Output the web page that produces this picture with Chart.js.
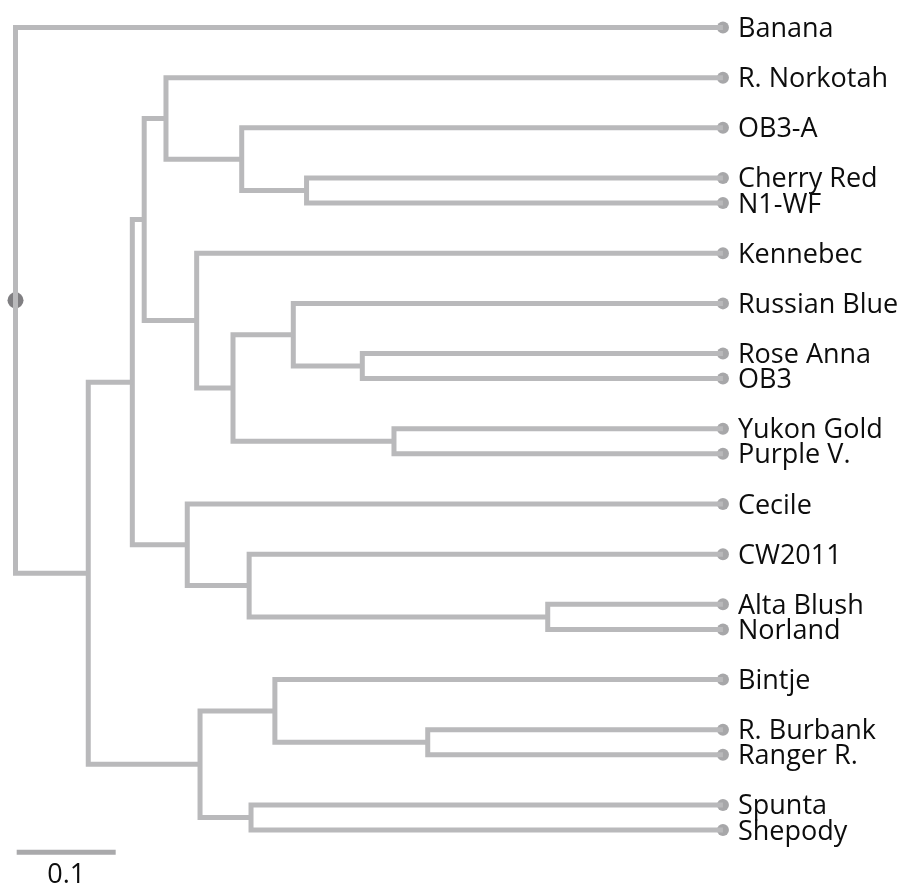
<!DOCTYPE html>
<html>
<head>
<meta charset="utf-8">
<script src="https://cdn.jsdelivr.net/npm/chart.js@4/dist/chart.umd.min.js"></script>
<style>
  html, body { margin: 0; padding: 0; background: #ffffff; }
  #wrap { width: 903px; height: 886px; position: relative; }
</style>
</head>
<body>
<div id="wrap"><canvas id="c"></canvas></div>
<script>
// ---- Data ----
const leafNames = ['Banana','R. Norkotah','OB3-A','Cherry Red','N1-WF','Kennebec','Russian Blue',
  'Rose Anna','OB3','Yukon Gold','Purple V.','Cecile','CW2011','Alta Blush','Norland',
  'Bintje','R. Burbank','Ranger R.','Spunta','Shepody'];
// leaf order rows (sister pairs drawn half a row apart)
const leafRows = [0,1,2,3,3.5,4.5,5.5,6.5,7,8,8.5,9.5,10.5,11.5,12,13,14,14.5,15.5,16];
const leafDepth = 0.7146;   // distance from root to every tip
// internal nodes: id, distance from root, children ('L#' = leaf index)
const nodeIds      = ['root','n1','n2','n3','n4','n6','n7','n5','n8','n9','n11','n10','nC','n12','n13','nB','n14','n16','n15'];
const nodeDepths   = [0, 0.0735, 0.118, 0.130, 0.152, 0.2285, 0.294, 0.183, 0.2197, 0.2806, 0.3503, 0.3823, 0.1735, 0.236, 0.5376, 0.1864, 0.262, 0.4164, 0.2379];
const nodeChildren = [['L0','n1'],['n2','nB'],['n3','nC'],['n4','n5'],['L1','n6'],['L2','n7'],['L3','L4'],
  ['L5','n8'],['n9','n10'],['L6','n11'],['L7','L8'],['L9','L10'],['L11','n12'],['L12','n13'],['L13','L14'],
  ['n14','n15'],['L15','n16'],['L16','L17'],['L18','L19']];
const scaleBarLength = 0.1;
const scaleBarLabel = '0.1';

// ---- Build geometry from tree ----
const LINE = '#b9b9bb';
const nodeIndex = {};
nodeIds.forEach((id, i) => nodeIndex[id] = i);
function info(ref) {
  if (ref[0] === 'L') { const k = +ref.slice(1); return { depth: leafDepth, row: leafRows[k] }; }
  const i = nodeIndex[ref];
  const a = info(nodeChildren[i][0]), b = info(nodeChildren[i][1]);
  return { depth: nodeDepths[i], row: (a.row + b.row) / 2 };
}
const datasets = [];
nodeIds.forEach((id, i) => {
  const a = info(nodeChildren[i][0]), b = info(nodeChildren[i][1]);
  const d = nodeDepths[i];
  datasets.push({
    type: 'line',
    data: [{x: a.depth, y: a.row}, {x: d, y: a.row}, {x: d, y: b.row}, {x: b.depth, y: b.row}],
    borderColor: LINE, borderWidth: 5, pointRadius: 0, tension: 0,
    borderJoinStyle: 'miter', borderCapStyle: 'butt', fill: false, clip: false
  });
});
// scale bar
datasets.push({
  type: 'line',
  data: [{x: 0.0012, y: 16.44}, {x: 0.0012 + scaleBarLength, y: 16.44}],
  borderColor: '#a9a9ab', borderWidth: 5, pointRadius: 0, borderCapStyle: 'butt', clip: false
});
// tip circles
datasets.push({
  type: 'scatter',
  data: leafRows.map(r => ({x: leafDepth, y: r})),
  backgroundColor: '#a7a7a9', borderWidth: 0, pointRadius: 6, clip: false
});
// root circle
const rootInfo = info('root');
datasets.push({
  type: 'scatter',
  data: [{x: 0, y: rootInfo.row}],
  backgroundColor: '#807f82', borderWidth: 0, pointRadius: 8, clip: false
});

const labelPlugin = {
  id: 'labels',
  afterDatasetsDraw(chart) {
    const ctx = chart.ctx, xs = chart.scales.x, ys = chart.scales.y;
    ctx.save();
    ctx.fillStyle = '#0d0d0d';
    ctx.font = '27px "Open Sans"';
    ctx.textAlign = 'left';
    ctx.textBaseline = 'alphabetic';
    const lx = xs.getPixelForValue(leafDepth) + 15;
    leafNames.forEach((n, k) => {
      ctx.fillText(n, lx, ys.getPixelForValue(leafRows[k]) + 9.5);
    });
    ctx.textAlign = 'center';
    ctx.fillText(scaleBarLabel, xs.getPixelForValue(0.0012 + scaleBarLength / 2), ys.getPixelForValue(16.44) + 31);
    ctx.restore();
  }
};

new Chart(document.getElementById('c'), {
  type: 'scatter',
  data: { datasets },
  options: {
    responsive: true, maintainAspectRatio: false, animation: false, events: [],
    layout: { padding: 0, autoPadding: false },
    plugins: { legend: { display: false }, tooltip: { enabled: false } },
    scales: {
      x: { type: 'linear', display: false, min: -0.015657, max: 0.896465 },
      y: { type: 'linear', display: false, reverse: true, min: -0.5482, max: 17.1153 }
    }
  },
  plugins: [labelPlugin]
});
</script>
</body>
</html>
